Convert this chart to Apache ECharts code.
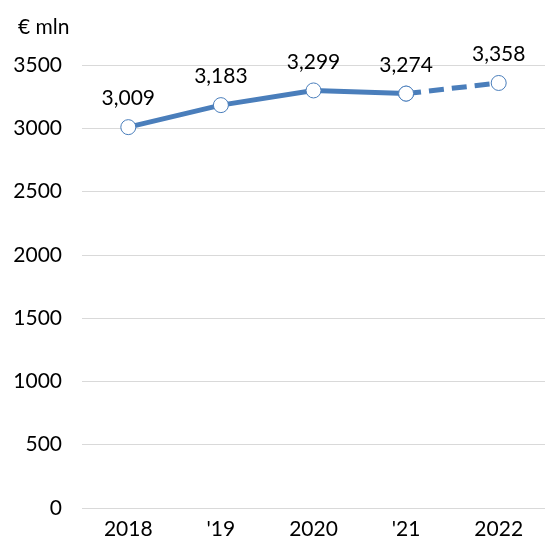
<!DOCTYPE html>
<html>
<head>
<meta charset="utf-8">
<script src="https://cdn.jsdelivr.net/npm/echarts@6/dist/echarts.min.js"></script>
<style>
  html, body { margin: 0; padding: 0; background: #fff; }
  #main { width: 545px; height: 542px; }
</style>
</head>
<body>
<div id="main"></div>
<script>
const anni = ['2018', "'19", '2020', "'21", '2022'];
const valoriPieni = [3009, 3183, 3299, 3274, '-'];
const valoriStima = ['-', '-', '-', 3274, 3358];
const yTicks = [0, 500, 1000, 1500, 2000, 2500, 3000, 3500];

const blu = '#4a7ebb';
const font = 'Lato, "Open Sans", sans-serif';

var myChart = echarts.init(document.getElementById('main'));
var option;

const fmt = p => p.value.toLocaleString('en-US');

option = {
  animation: false,
  textStyle: { fontFamily: font },
  title: {
    text: '€ mln',
    left: 13,
    top: 12,
    textStyle: { fontSize: 21, fontWeight: 'normal', color: '#000', fontFamily: font }
  },
  grid: { left: 82, right: 0, top: 65, bottom: 34 },
  xAxis: {
    type: 'category',
    data: anni,
    axisLine: { show: false },
    axisTick: { show: false },
    axisLabel: { fontSize: 21, color: '#000', margin: 11, fontFamily: font }
  },
  yAxis: {
    type: 'value',
    min: yTicks[0],
    max: yTicks[yTicks.length - 1],
    interval: 500,
    axisLabel: { fontSize: 21, color: '#000', margin: 20, fontFamily: font, formatter: v => String(v) },
    splitLine: { lineStyle: { color: '#d9d9d9', width: 1 } }
  },
  series: [
    {
      type: 'line',
      data: valoriPieni,
      lineStyle: { color: blu, width: 5 },
      symbol: 'circle',
      symbolSize: 15,
      itemStyle: { color: '#fff', borderColor: blu, borderWidth: 1 },
      label: {
        show: true, position: 'top', distance: 10,
        fontSize: 21, color: '#000', fontFamily: font, formatter: fmt
      },
      z: 3
    },
    {
      type: 'line',
      data: valoriStima,
      lineStyle: { color: blu, width: 5, type: [15, 8] },
      symbol: 'circle',
      symbolSize: 15,
      itemStyle: { color: '#fff', borderColor: blu, borderWidth: 1 },
      label: {
        show: true, position: 'top', distance: 10,
        fontSize: 21, color: '#000', fontFamily: font,
        formatter: p => p.dataIndex === 4 ? fmt(p) : ''
      },
      z: 2
    }
  ]
};

option && myChart.setOption(option);
</script>
</body>
</html>
